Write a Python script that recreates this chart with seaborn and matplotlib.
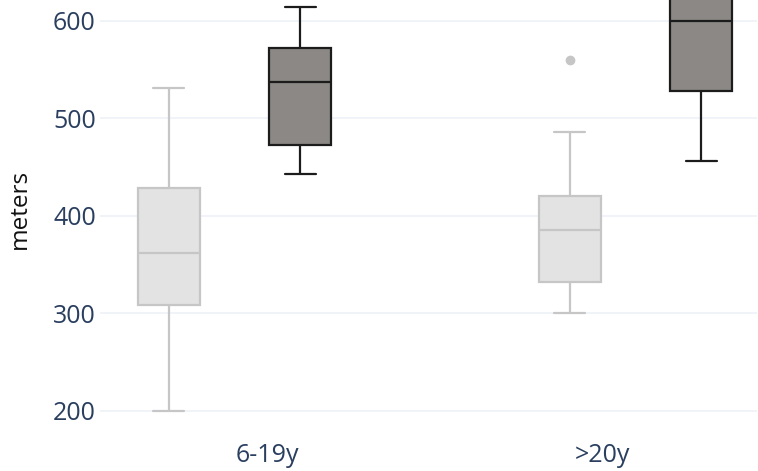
import matplotlib
matplotlib.use("Agg")
import matplotlib.pyplot as plt
import seaborn as sns
import pandas as pd

# Walking distance samples (meters) per age band and group
age_bands = ["6-19y", ">20y"]
groups = ["control", "athlete"]

control_6_19 = [200, 270, 309, 340, 362, 400, 429, 480, 531]
athlete_6_19 = [443, 460, 473, 505, 537, 555, 572, 595, 614]
control_20 = [300, 315, 332, 360, 386, 405, 420, 486, 560]
athlete_20 = [456, 490, 528, 570, 600, 625, 650, 680, 700]

rows = []
for band, grp, vals in [
    ("6-19y", "control", control_6_19),
    ("6-19y", "athlete", athlete_6_19),
    (">20y", "control", control_20),
    (">20y", "athlete", athlete_20),
]:
    rows += [{"age": band, "group": grp, "meters": v} for v in vals]
df = pd.DataFrame(rows)

sns.set_theme(style="white")
plt.rcParams["font.family"] = ["Open Sans", "DejaVu Sans"]

fig = plt.figure(figsize=(7.58, 4.71), dpi=100)
ax = fig.add_axes([100 / 758, 41 / 471, 657 / 758, 430 / 471])

styles = {
    "control": dict(fill="#e3e3e3", line="#c6c6c6"),
    "athlete": dict(fill="#8c8884", line="#1c1c1c"),
}
palette = {g: styles[g]["fill"] for g in groups}

for g in groups:
    sub = df[df["group"] == g]
    sns.boxplot(
        data=sub, x="age", y="meters", hue="group",
        order=age_bands, hue_order=groups, palette=palette,
        dodge=True, width=0.654, gap=0.527,
        linecolor=styles[g]["line"], linewidth=1.6,
        flierprops=dict(marker="o", markersize=6,
                        markerfacecolor=styles[g]["line"],
                        markeredgecolor=styles[g]["line"]),
        legend=False, ax=ax, zorder=3,
    )

ax.set_ylim(180.5, 621.5)
ax.set_xlim(-0.3354, 1.303)
ax.set_yticks([200, 300, 400, 500, 600])
ax.set_xticks([0.081, 0.918])
ax.set_xticklabels(age_bands)

ax.grid(axis="y", color="#eef1f7", linewidth=1.2, zorder=0)
ax.grid(axis="x", visible=False)
ax.set_axisbelow(True)
for s in ax.spines.values():
    s.set_visible(False)

tick_color = "#2a3f5f"
ax.tick_params(axis="y", length=0, pad=3, labelsize=18, labelcolor=tick_color)
ax.tick_params(axis="x", length=0, pad=9, labelsize=18, labelcolor=tick_color)
ax.set_xlabel("")
ax.set_ylabel("meters", fontsize=17.5, color="#111111")
ax.yaxis.set_label_coords(-0.1035, 0.515)

fig.savefig("out.png", dpi=100)
